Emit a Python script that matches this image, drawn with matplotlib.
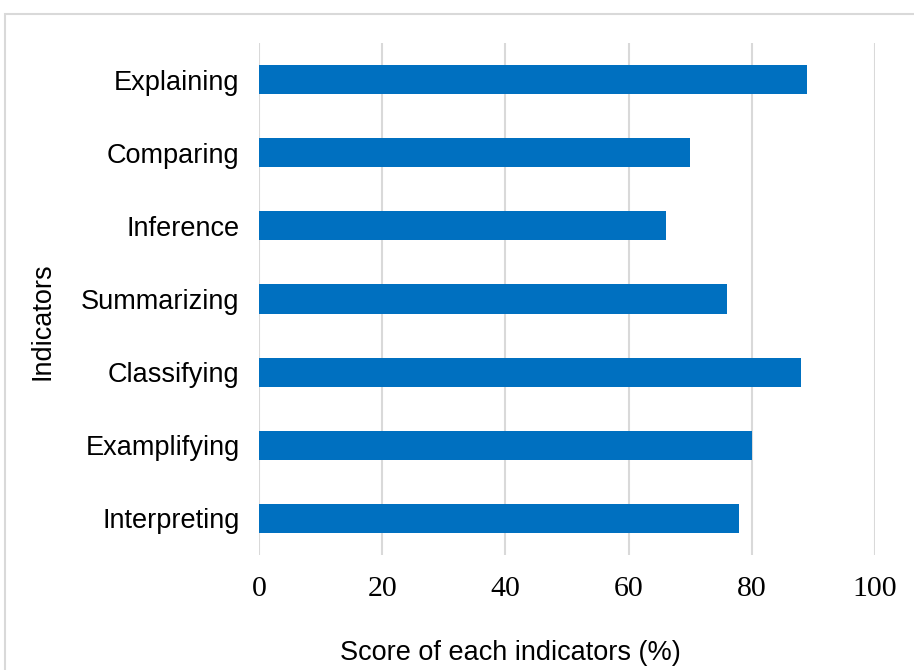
import matplotlib
matplotlib.use("Agg")
import matplotlib.pyplot as plt
from matplotlib.patches import Rectangle

categories = ["Interpreting", "Examplifying", "Classifying", "Summarizing",
              "Inference", "Comparing", "Explaining"]
values = [78, 80, 88, 76, 66, 70, 89]
xticks = [0, 20, 40, 60, 80, 100]

W, H = 914, 670
fig = plt.figure(figsize=(W / 100, H / 100), dpi=100)
fig.patch.set_facecolor("white")

# outer chart border
fig.patches.append(Rectangle((5 / W, -0.2), 1.2, (H - 14) / H + 0.2, transform=fig.transFigure,
                             fill=False, edgecolor="#d9d9d9", linewidth=1.5, zorder=0))

ax = fig.add_axes([259 / W, (H - 555) / H, (875 - 259) / W, (555 - 43) / H])
ax.barh(range(len(categories)), values, height=0.4, color="#0070C0", zorder=3)
ax.set_xlim(0, 100)
ax.set_ylim(-0.5, len(categories) - 0.5)
ax.set_xticks(xticks)
ax.set_xticklabels([str(t) for t in xticks], fontfamily="Liberation Serif", fontsize=21.5)
ax.set_yticks(range(len(categories)))
ax.set_yticklabels(categories, fontfamily="Liberation Sans", fontsize=19.5)
ax.tick_params(axis="both", length=0)
ax.tick_params(axis="x", pad=15)
ax.tick_params(axis="y", pad=14)
ax.grid(axis="x", color="#d9d9d9", linewidth=1.5, zorder=0)
ax.set_axisbelow(True)
for s in ax.spines.values():
    s.set_visible(False)

fig.text(510 / W, (H - 653) / H, "Score of each indicators (%)", fontfamily="Liberation Sans",
         fontsize=19.5, ha="center", va="center")
fig.text(42 / W, (H - 321) / H, "Indicators", fontfamily="Liberation Sans",
         fontsize=19.5, ha="center", va="center", rotation=90)

fig.savefig("out.png", dpi=100)
